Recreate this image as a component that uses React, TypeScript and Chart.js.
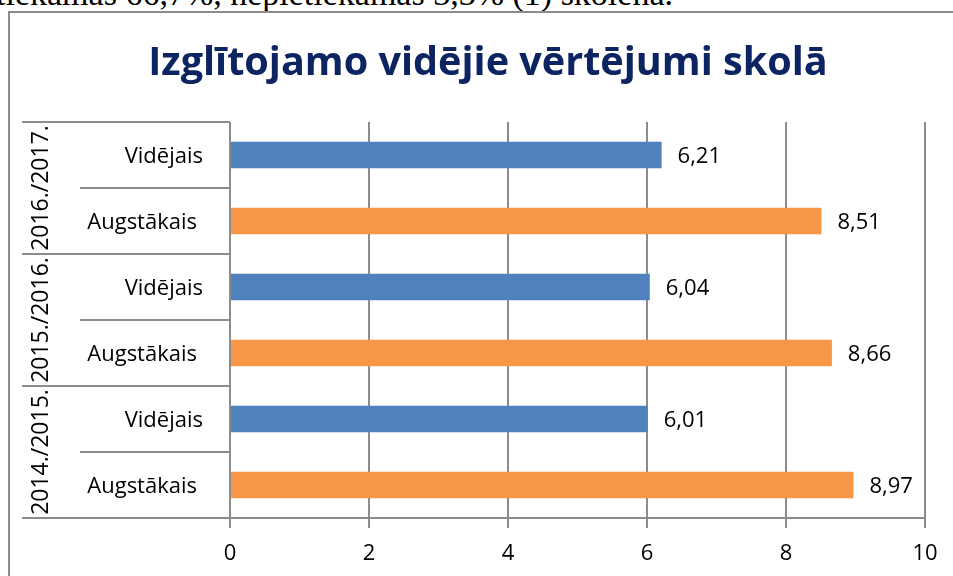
import React, { useEffect, useRef } from "react";
import { Chart, registerables } from "chart.js";

Chart.register(...registerables);

const titleText = "Izglītojamo vidējie vērtējumi skolā";
const years = ["2016./2017.", "2015./2016.", "2014./2015."];
const subLabels = ["Vidējais", "Augstākais"];
const categories = [
  "2016./2017. Vidējais",
  "2016./2017. Augstākais",
  "2015./2016. Vidējais",
  "2015./2016. Augstākais",
  "2014./2015. Vidējais",
  "2014./2015. Augstākais",
];
const values = [6.21, 8.51, 6.04, 8.66, 6.01, 8.97];
const xTicks = [0, 2, 4, 6, 8, 10];
const colorsBySub = ["#4f81bd", "#f79646"];
const aboveText = "pietiekamas 66,7%, nepietiekamas 3,3% (1) skolēna.";

const FONT = "'Open Sans', sans-serif";
const LINE = "#8c8c8c";
const LABEL_SIZE = 22;

const customPlugin = {
  id: "custom",
  afterDraw(chart: any) {
    const ctx = chart.ctx;
    const x = chart.scales.x;
    const y = chart.scales.y;
    const area = chart.chartArea;
    ctx.save();
    // title (fit to target width)
    ctx.font = `bold 38px ${FONT}`;
    const w38 = ctx.measureText(titleText).width;
    const tSize = Math.min(44, (38 * 680) / w38);
    ctx.font = `bold ${tSize.toFixed(1)}px ${FONT}`;
    ctx.fillStyle = "#0c2462";
    ctx.textAlign = "center";
    ctx.textBaseline = "alphabetic";
    ctx.fillText(titleText, 488, 75);

    // value labels
    ctx.fillStyle = "#000";
    ctx.font = `${LABEL_SIZE}px ${FONT}`;
    ctx.textAlign = "left";
    ctx.textBaseline = "middle";
    values.forEach((v, i) => {
      const px = x.getPixelForValue(v) + 16;
      const py = y.getPixelForValue(i);
      ctx.fillText(v.toFixed(2).replace(".", ","), px, py + 2);
    });

    // category axis lines
    const n = categories.length;
    const step = (y.getPixelForValue(n - 1) - y.getPixelForValue(0)) / (n - 1);
    ctx.strokeStyle = LINE;
    ctx.lineWidth = 2;
    for (let b = 0; b <= n; b++) {
      const py = Math.round(y.getPixelForValue(0) - step / 2 + b * step);
      const left = b % 2 === 0 ? 22 : 80;
      ctx.beginPath();
      ctx.moveTo(left, py);
      ctx.lineTo(area.left, py);
      ctx.stroke();
    }

    // sub labels
    ctx.fillStyle = "#000";
    ctx.font = `${LABEL_SIZE}px ${FONT}`;
    ctx.textAlign = "right";
    ctx.textBaseline = "middle";
    const rightEdges = [203, 197];
    categories.forEach((_, i) => {
      const py = y.getPixelForValue(i);
      ctx.fillText(subLabels[i % 2], rightEdges[i % 2], py + 2);
    });

    // year labels (rotated)
    ctx.font = `${LABEL_SIZE + 1}px ${FONT}`;
    years.forEach((yr, g) => {
      const cy = (y.getPixelForValue(g * 2) + y.getPixelForValue(g * 2 + 1)) / 2;
      ctx.save();
      ctx.translate(41, cy);
      ctx.rotate(-Math.PI / 2);
      ctx.textAlign = "center";
      ctx.textBaseline = "middle";
      ctx.fillText(yr, 0, 0);
      ctx.restore();
    });
    ctx.restore();
  },
};

export default function App() {
  const ref = useRef<HTMLCanvasElement | null>(null);
  useEffect(() => {
    if (!ref.current) return;
    const chart = new Chart(ref.current, {
      type: "bar",
      data: {
        labels: categories,
        datasets: [
          {
            data: values,
            backgroundColor: values.map((_, i) => colorsBySub[i % 2]),
            barPercentage: 0.4,
            categoryPercentage: 1,
          },
        ],
      },
      options: {
        indexAxis: "y",
        animation: false,
        responsive: false,
        maintainAspectRatio: false,
        layout: { padding: { left: 230, right: 28, top: 122, bottom: 0 } },
        plugins: {
          legend: { display: false },
          title: { display: false },
          tooltip: { enabled: false },
        },
        scales: {
          x: {
            min: 0,
            max: 10,
            afterBuildTicks: (s: any) => {
              s.ticks = xTicks.map((v) => ({ value: v }));
            },
            afterFit: (s: any) => {
              s.height = 58;
            },
            grid: {
              color: LINE,
              lineWidth: 2,
              tickLength: 10,
              drawTicks: true,
            },
            border: { color: LINE, width: 2 },
            ticks: {
              color: "#000",
              font: { family: FONT, size: LABEL_SIZE },
              padding: 13,
              maxRotation: 0,
            },
          },
          y: {
            display: false,
          },
        },
      },
      plugins: [customPlugin],
    } as any);
    return () => chart.destroy();
  }, []);

  return (
    <div
      style={{
        position: "relative",
        width: 953,
        height: 576,
        overflow: "hidden",
        background: "#fff",
      }}
    >
      <style>{"body{margin:0}"}</style>
      <div
        style={{
          position: "absolute",
          right: 280,
          top: -23,
          fontFamily: "'Liberation Serif', serif",
          fontSize: 34,
          lineHeight: "34px",
          whiteSpace: "nowrap",
          color: "#000",
        }}
      >
        {aboveText}
      </div>
      <div
        style={{
          position: "absolute",
          left: 8,
          top: 11,
          width: 1000,
          height: 600,
          borderLeft: "2px solid #8c8c8c",
          borderTop: "2px solid #8c8c8c",
          background: "#fff",
        }}
      />
      <canvas
        ref={ref}
        width={953}
        height={576}
        style={{ position: "absolute", left: 0, top: 0, width: 953, height: 576 }}
      />
    </div>
  );
}
